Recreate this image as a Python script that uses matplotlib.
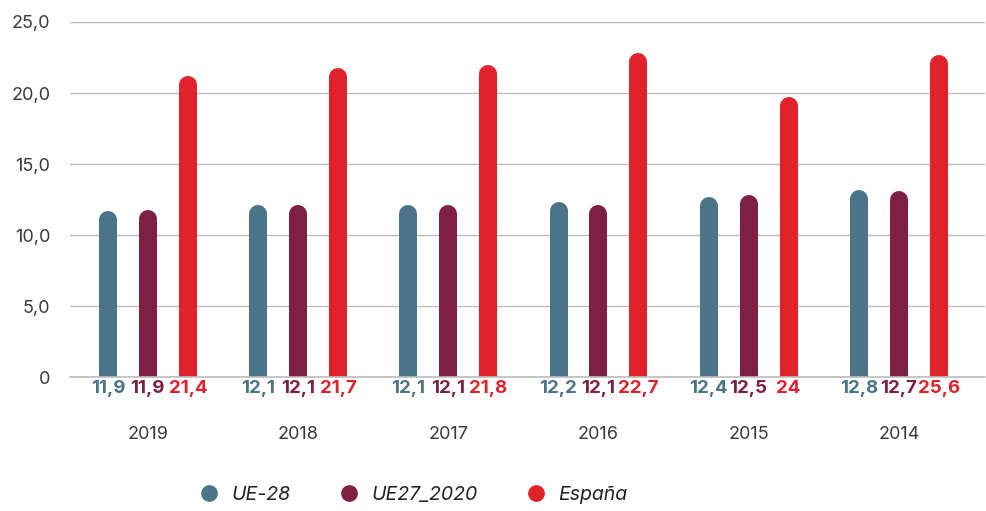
import matplotlib
matplotlib.use("Agg")
import matplotlib.pyplot as plt
from matplotlib.lines import Line2D
import numpy as np

plt.rcParams['font.family'] = ['Inter', 'DejaVu Sans']

years = ["2019", "2018", "2017", "2016", "2015", "2014"]
series = ["UE-28", "UE27_2020", "España"]
colors = ["#4b7489", "#7e2044", "#e1222b"]

# bar tops as drawn in the picture
ue28 = [11.7, 12.15, 12.15, 12.3, 12.7, 13.2]
ue27 = [11.75, 12.15, 12.15, 12.15, 12.8, 13.1]
espana = [21.2, 21.75, 22.0, 22.8, 19.75, 22.7]

# value labels printed under the bars
ue28_lab = ["11,9", "12,1", "12,1", "12,2", "12,4", "12,8"]
ue27_lab = ["11,9", "12,1", "12,1", "12,1", "12,5", "12,7"]
espana_lab = ["21,4", "21,7", "21,8", "22,7", "24", "25,6"]

yticks = [0, 5, 10, 15, 20, 25]
ytick_labels = ["0", "5,0", "10,0", "15,0", "20,0", "25,0"]

fig = plt.figure(figsize=(9.87, 5.11), dpi=100)
ax = fig.add_axes([0.0709, 0.262, 0.927, 0.695])
ax.set_ylim(0, 25)
ax.set_xlim(-0.519, 5.573)

x = np.arange(len(years))
offsets = [-0.266, 0, 0.266]
bar_px = 18
lw = bar_px * 72 / fig.dpi

# radius of the round cap in data units
fig.canvas.draw()
p0 = ax.transData.transform((0, 0))
p1 = ax.transData.transform((0, 1))
cap = (bar_px / 2) / (p1[1] - p0[1])

for vals, labs, off, col in zip([ue28, ue27, espana], [ue28_lab, ue27_lab, espana_lab], offsets, colors):
    xs = x + off
    tops = np.array(vals) - cap
    ax.vlines(xs, -2, tops, colors=col, linewidth=lw, capstyle='round', zorder=3)
    for xi, lab in zip(xs, labs):
        ax.annotate(lab, (xi, 0), xytext=(0, -8), textcoords='offset points',
                    ha='center', va='center', fontsize=13.5, fontweight='bold',
                    color=col, annotation_clip=False)

ax.axhline(0, color='#bdbdbd', linewidth=1.2, clip_on=False, zorder=4)

ax.set_yticks(yticks)
ax.set_yticklabels(ytick_labels)
ax.set_xticks(x)
ax.set_xticklabels(years)
ax.tick_params(axis='y', length=0, pad=14, labelsize=13, labelcolor='#3a3a3a')
ax.tick_params(axis='x', length=0, pad=35, labelsize=13, labelcolor='#3a3a3a')

ax.grid(axis='y', color='#bdbdbd', linewidth=1)
ax.set_axisbelow(True)
for s in ax.spines.values():
    s.set_visible(False)

handles = [Line2D([], [], marker='o', linestyle='', markersize=11,
                  markerfacecolor=c, markeredgecolor=c) for c in colors]
leg = fig.legend(handles, series, loc='center', bbox_to_anchor=(0.414, 0.031),
                 ncol=3, frameon=False, handletextpad=0.15, columnspacing=2.0,
                 prop={'size': 14, 'style': 'italic'})
for t in leg.get_texts():
    t.set_color('#222222')

fig.savefig("out.png", dpi=100)
